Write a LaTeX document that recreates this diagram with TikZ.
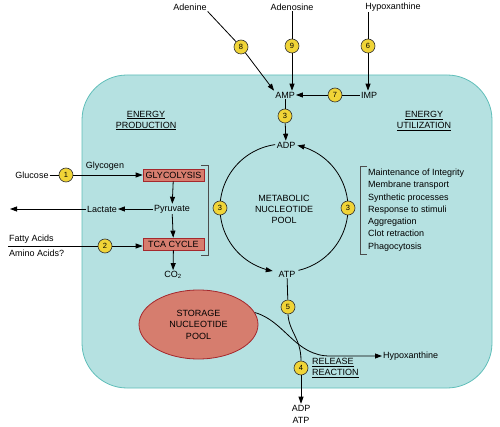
\documentclass[tikz,border=0pt]{standalone}
\usepackage{fontspec}
\setmainfont{Liberation Sans}
\usetikzlibrary{arrows.meta,shapes.geometric,calc}
\definecolor{cellfill}{RGB}{181,225,225}
\definecolor{celledge}{RGB}{95,190,185}
\definecolor{boxfill}{RGB}{214,125,110}
\definecolor{boxedge}{RGB}{165,40,45}
\definecolor{numfill}{RGB}{240,212,55}
\begin{document}
\begin{tikzpicture}[x=1pt,y=-1pt,
  every node/.style={font=\fontsize{9}{11}\selectfont, inner sep=1pt},
  numc/.style={circle, draw=black!80, line width=0.6pt, fill=numfill, minimum size=14pt, inner sep=0pt, font=\fontsize{7.5}{8}\selectfont},
  conn/.style={line width=0.8pt},
  arr/.style={conn, -{Triangle[length=7pt,width=5pt]}},
  procbox/.style={draw=boxedge, fill=boxfill, line width=0.7pt, minimum width=61pt, minimum height=12pt, inner sep=1pt},
  brk/.style={line width=0.6pt, draw=black!70}
]
\useasboundingbox (0,0) rectangle (500,427);
\draw[fill=cellfill, draw=celledge, line width=0.8pt, rounded corners=45pt] (82,75) rectangle (492,388);

% metabolic pool circle arcs (drawn before the numbered circles on them)
\draw[arr] plot[domain=0:1, samples=80, smooth, variable=\t] ({284+64*cos(262-162*\t)},{208+64*sin(262-162*\t)});
\draw[arr] plot[domain=0:1, samples=80, smooth, variable=\t] ({284+64*cos(77-155*\t)},{208+64*sin(77-155*\t)});

% top
\node (Adenine) at (190,7) {Adenine};
\node (Adenosine) at (292,7) {Adenosine};
\node (HypTop) at (393,7) {Hypoxanthine};
\node[numc] (n8) at (241,47) {8};
\node[numc] (n9) at (292,46) {9};
\node[numc] (n6) at (368,46) {6};
\node (AMP) at (285,95) {AMP};
\node (IMP) at (369,95) {IMP};
\node[numc] (n7) at (335,95) {7};
\node[numc] (n3a) at (285,116) {3};
\node (ADP) at (286,145) {ADP};
\node[numc] (n3l) at (220,208) {3};
\node[numc] (n3r) at (348,208) {3};
\node[align=center] (MNP) at (284,209) {METABOLIC\\NUCLEOTIDE\\POOL};
\node (ATP) at (287,274) {ATP};

\node[align=center] (EP) at (146,120.5) {\underline{ENERGY}\\\underline{PRODUCTION}};
\node[align=center] (EU) at (424,121) {\underline{ENERGY}\\\underline{UTILIZATION}};

% left side
\node (Glucose) at (32,175) {Glucose};
\node[numc] (n1) at (66,175) {1};
\node[procbox] (GLY) at (173.5,175) {GLYCOLYSIS};
\node (Glycogen) at (105,166) {Glycogen};
\node (Pyr) at (172,209) {Pyruvate};
\node (Lac) at (102,209) {Lactate};
\coordinate (LacEnd) at (10,209);
\node[procbox] (TCA) at (173.5,244) {TCA CYCLE};
\node (CO2) at (173,275) {CO\textsubscript{2}};
\node[anchor=west] (FA) at (8,239.5) {Fatty Acids};
\node[anchor=west] (AA) at (8,253) {Amino Acids?};
\coordinate (FAstart) at (8,246);
\node[numc] (n2) at (105,246) {2};

\draw[brk] (201,165) -- (208,165) -- (208,255) -- (201,255);
\draw[brk] (367,166) -- (360,166) -- (360,254) -- (367,254);

\node[anchor=west, align=left, font=\fontsize{9}{12.3}\selectfont] (List) at (367,210) {Maintenance of Integrity\\Membrane transport\\Synthetic processes\\Response to stimuli\\Aggregation\\Clot retraction\\Phagocytosis};

% storage and release
\node[ellipse, draw=boxedge, fill=boxfill, line width=0.8pt, minimum width=119pt, minimum height=69pt, inner sep=0pt, align=center, font=\fontsize{9}{11.5}\selectfont] (SNP) at (198.5,324.5) {STORAGE\\NUCLEOTIDE\\POOL};
\node[numc] (n5) at (288,307) {5};
\node[numc] (n4) at (301,368) {4};
\node[align=center, font=\fontsize{9}{12}\selectfont] (ADPATP) at (301,414) {ADP\\ATP};
\node[anchor=west] (HypR) at (382,356) {Hypoxanthine};
\node[anchor=west, align=left] (RR) at (311,368) {\underline{RELEASE}\\\underline{REACTION}};

% connectors
\draw[conn] (Adenine.south east) -- (n8);
\draw[arr] (n8) -- (AMP.north west);
\draw[conn] (Adenosine) -- (n9);
\draw[arr] (n9) -- (n9 |- AMP.north);
\draw[conn] (n6 |- HypTop.south) -- (n6);
\draw[arr] (n6) -- (n6 |- IMP.north);
\draw[conn] (IMP) -- (n7);
\draw[arr] (n7) -- (AMP);
\draw[conn] (AMP) -- (n3a);
\draw[arr] (n3a) -- (ADP);

\draw[conn] (Glucose) -- (n1);
\draw[arr] (n1) -- (GLY);
\draw[arr] (GLY) -- (Pyr);
\draw[arr] (Pyr) -- (Lac);
\draw[arr] (Lac) -- (LacEnd);
\draw[arr] (Pyr) -- (TCA);
\draw[arr] (TCA) -- (CO2);
\draw[conn] (FAstart) -- (n2);
\draw[arr] (n2) -- (n2 -| TCA.west);

\draw[conn] (ATP) -- (n5);
\draw[conn] (n5.south) .. controls (289,332) and (301,338) .. (n4.north);
\draw[arr] (n4) -- (ADPATP);
\draw[arr] (SNP.12) .. controls (285,321) and (295,356) .. (330,356) -- (HypR.west);
\end{tikzpicture}
\end{document}
